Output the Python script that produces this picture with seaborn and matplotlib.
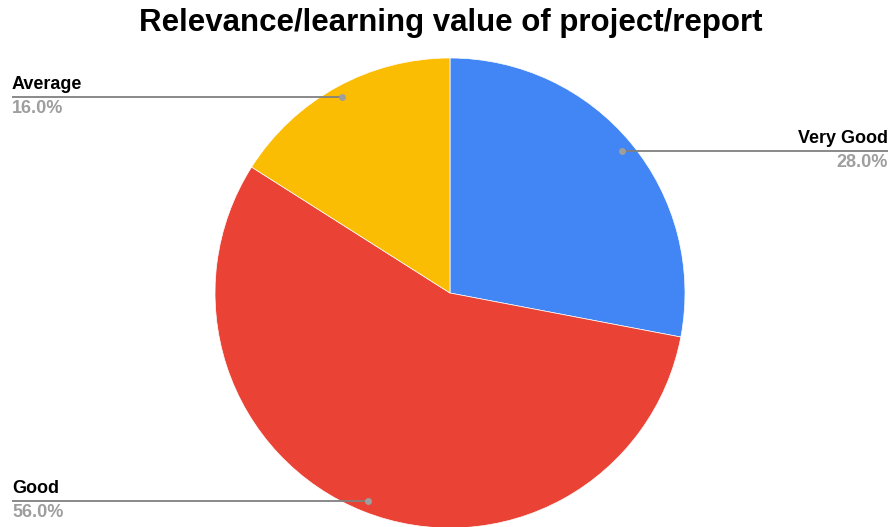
import numpy as np
import matplotlib
matplotlib.use("Agg")
import matplotlib.pyplot as plt
import seaborn as sns

categories = ["Very Good", "Good", "Average"]
values = [28.0, 56.0, 16.0]
colors = ["#4285F4", "#EA4335", "#FBBC04"]
title = "Relevance/learning value of project/report"

sns.set_theme(style="white")
plt.rcParams['font.family'] = ['Liberation Sans', 'DejaVu Sans']

W, H = 891, 527
fig = plt.figure(figsize=(W / 100, H / 100), dpi=100)
ax = fig.add_axes([0, 0, 1, 1])

cx, cy, r = 450, H - 293, 235
wedges, _ = ax.pie(values, colors=colors, startangle=90, counterclock=False,
                   center=(cx, cy), radius=r,
                   wedgeprops=dict(linewidth=0.5, edgecolor="white"))
ax.set_xlim(0, W)
ax.set_ylim(0, H)
ax.set_aspect("equal")
ax.axis("off")

line_col = "#808080"
for w, cat, v in zip(wedges, categories, values):
    ang = np.deg2rad((w.theta1 + w.theta2) / 2)
    px = cx + 0.95 * r * np.cos(ang)
    py = cy + 0.95 * r * np.sin(ang)
    right = np.cos(ang) > 0
    xe = 888 if right else 12
    ax.plot([px, xe], [py, py], color=line_col, lw=1.3, solid_capstyle="butt", zorder=5)
    ax.plot([px], [py], "o", color="#9e9e9e", ms=5, mec="none", zorder=6)
    ha = "right" if right else "left"
    ax.text(xe, py + 4, cat, ha=ha, va="bottom", fontsize=13, fontweight="bold", color="#000000")
    ax.text(xe, py - 3, f"{v:.1f}%", ha=ha, va="top", fontsize=13, fontweight="bold", color="#9e9e9e")

ax.text(W / 2 + 5, H - 23, title, ha="center", va="center", fontsize=22.5, fontweight="bold", color="#000000")

fig.savefig("out.png", dpi=100)
